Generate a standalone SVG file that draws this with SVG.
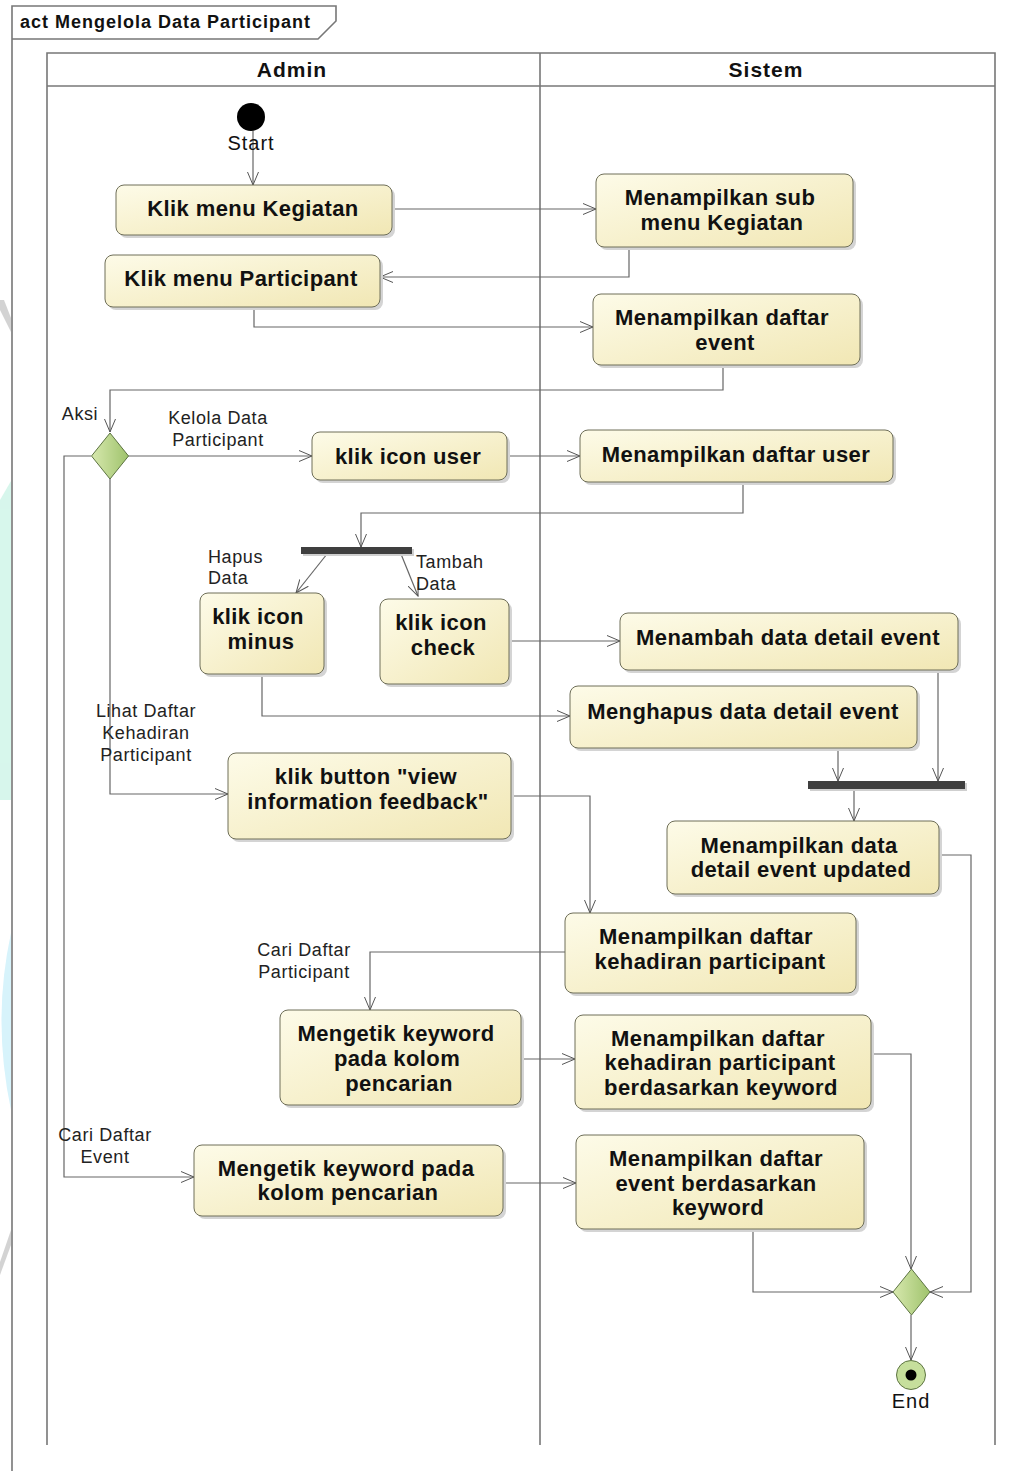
<svg xmlns="http://www.w3.org/2000/svg" width="1035" height="1471" viewBox="0 0 1035 1471">
<defs>
<linearGradient id="gNode" x1="0" y1="0" x2="1" y2="1">
<stop offset="0" stop-color="#fdfbe8"/>
<stop offset="1" stop-color="#f1e7b4"/>
</linearGradient>
<linearGradient id="gDia" x1="0" y1="0" x2="1" y2="0">
<stop offset="0" stop-color="#d7e8ae"/>
<stop offset="1" stop-color="#9fc36c"/>
</linearGradient>
<marker id="arr" viewBox="0 0 14 12" refX="13" refY="6" markerWidth="14" markerHeight="12" markerUnits="userSpaceOnUse" orient="auto">
<path d="M0,0.5 L13,6 L0,11.5" fill="none" stroke="#555" stroke-width="1"/>
</marker>
<style>
.nb{fill:url(#gNode);stroke:#6e6e58;stroke-width:1}
.sh{fill:#d4d4d4}
.t{font-family:"Liberation Sans",Arial,sans-serif;font-weight:bold;font-size:22px;letter-spacing:0.4px;fill:#111;text-anchor:middle}
.l{font-family:"Liberation Sans",Arial,sans-serif;font-size:18px;letter-spacing:0.6px;fill:#222}
.m{text-anchor:middle}
.e{fill:none;stroke:#666;stroke-width:1.2;marker-end:url(#arr)}
.ln{fill:none;stroke:#777;stroke-width:1.6}
.dia{fill:url(#gDia);stroke:#5d7442;stroke-width:1}
.bar{fill:#3f3f3f}
.h{font-family:"Liberation Sans",Arial,sans-serif;font-weight:bold;font-size:21px;letter-spacing:1px;text-anchor:middle;fill:#111}
.s{font-family:"Liberation Sans",Arial,sans-serif;font-size:20px;letter-spacing:1px;text-anchor:middle;fill:#111}
</style>
</defs>
<rect x="0" y="0" width="1035" height="1471" fill="#ffffff"/>
<g id="watermark" opacity="0.9">
<polygon points="0,300 4,300 11,318 11,332 0,310" fill="#cfcfcf"/>
<polygon points="0,500 11,481 11,800 0,800" fill="#d3f6ea"/>
<path d="M11,933 Q-8,1020 11,1110 Z" fill="#d3f2fb"/>
<polygon points="11,1230 11,1245 0,1275 0,1262" fill="#cfcfcf"/>
</g>
<g id="frame">
<path class="ln" d="M12,1471 L12,6 L336,6 L336,21 L318,39 L12,39" stroke="#888"/>
<text x="20" y="28" font-family="Liberation Sans,Arial,sans-serif" font-weight="bold" font-size="18" letter-spacing="1" fill="#111">act Mengelola Data Participant</text>
</g>
<g id="lanes">
<path class="ln" d="M47,1445 L47,53 L995,53 L995,1445"/>
<line class="ln" x1="47" y1="86" x2="995" y2="86"/>
<line class="ln" x1="540" y1="53" x2="540" y2="1445"/>
<text class="h" x="292" y="77">Admin</text>
<text class="h" x="766" y="77">Sistem</text>
</g>
<g id="connectors">
<path class="e" d="M253,131 L253,185"/>
<path class="e" d="M392,209 L596,209"/>
<path class="e" d="M629,247 L629,277 L380,277"/>
<path class="e" d="M254,307 L254,327 L593,327"/>
<path class="e" d="M723,365 L723,390 L110,390 L110,432"/>
<path class="e" d="M128,456 L312,456"/>
<path class="e" d="M507,456 L580,456"/>
<path class="e" d="M743,482 L743,513 L361,513 L361,547"/>
<path class="e" d="M327,554 L296,593"/>
<path class="e" d="M401,554 L418,596"/>
<path class="e" d="M509,641 L620,641"/>
<path class="e" d="M262,674 L262,716 L570,716"/>
<path class="e" d="M938,670 L938,781"/>
<path class="e" d="M838,748 L838,781"/>
<path class="e" d="M854,789 L854,821"/>
<path class="e" d="M110,478 L110,794 L228,794"/>
<path class="e" d="M511,796 L590,796 L590,913"/>
<path class="e" d="M939,855 L971,855 L971,1292 L930,1292"/>
<path class="e" d="M565,952 L370,952 L370,1010"/>
<path class="e" d="M521,1059 L575,1059"/>
<path class="e" d="M871,1054 L911,1054 L911,1269"/>
<path class="e" d="M91,456 L64,456 L64,1177 L194,1177"/>
<path class="e" d="M503,1183 L576,1183"/>
<path class="e" d="M753,1229 L753,1292 L893,1292"/>
<path class="e" d="M911,1315 L911,1360"/>
<text class="l m" x="80" y="420">Aksi</text>
<text class="l m" x="218" y="424">Kelola Data</text>
<text class="l m" x="218" y="446">Participant</text>
<text class="l" x="208" y="563">Hapus</text>
<text class="l" x="208" y="584">Data</text>
<text class="l" x="416" y="568">Tambah</text>
<text class="l" x="416" y="590">Data</text>
<text class="l m" x="146" y="717">Lihat Daftar</text>
<text class="l m" x="146" y="739">Kehadiran</text>
<text class="l m" x="146" y="761">Participant</text>
<text class="l m" x="304" y="956">Cari Daftar</text>
<text class="l m" x="304" y="978">Participant</text>
<text class="l m" x="105" y="1141">Cari Daftar</text>
<text class="l m" x="105" y="1163">Event</text>
</g>
<g id="start">
<circle cx="251" cy="117" r="14" fill="#000"/>
<text class="s" x="251" y="150">Start</text>
</g>
<g id="n1"><rect class="sh" x="119" y="188" width="276" height="50" rx="8"/><rect class="nb" x="116" y="185" width="276" height="50" rx="8"/><text class="t" x="253" y="216">Klik menu Kegiatan</text></g>
<g id="n2"><rect class="sh" x="599" y="177" width="257" height="73" rx="8"/><rect class="nb" x="596" y="174" width="257" height="73" rx="8"/><text class="t" x="720" y="205">Menampilkan sub</text><text class="t" x="722" y="230">menu Kegiatan</text></g>
<g id="n3"><rect class="sh" x="108" y="258" width="275" height="52" rx="8"/><rect class="nb" x="105" y="255" width="275" height="52" rx="8"/><text class="t" x="241" y="286">Klik menu Participant</text></g>
<g id="n4"><rect class="sh" x="596" y="297" width="267" height="71" rx="8"/><rect class="nb" x="593" y="294" width="267" height="71" rx="8"/><text class="t" x="722" y="325">Menampilkan daftar</text><text class="t" x="725" y="350">event</text></g>
<g id="d1"><polygon class="dia" points="110,433 128.5,456 110,479 91.5,456"/></g>
<g id="n5"><rect class="sh" x="315" y="435" width="195" height="48" rx="8"/><rect class="nb" x="312" y="432" width="195" height="48" rx="8"/><text class="t" x="408" y="464">klik icon user</text></g>
<g id="n6"><rect class="sh" x="583" y="433" width="313" height="52" rx="8"/><rect class="nb" x="580" y="430" width="313" height="52" rx="8"/><text class="t" x="736" y="462">Menampilkan daftar user</text></g>
<g id="fork1"><rect x="303" y="549" width="111" height="7" fill="#cfcfcf"/><rect class="bar" x="301" y="547" width="111" height="7"/></g>
<g id="n7"><rect class="sh" x="203" y="596" width="124" height="81" rx="8"/><rect class="nb" x="200" y="593" width="124" height="81" rx="8"/><text class="t" x="258" y="624">klik icon</text><text class="t" x="261" y="649">minus</text></g>
<g id="n8"><rect class="sh" x="383" y="602" width="129" height="85" rx="8"/><rect class="nb" x="380" y="599" width="129" height="85" rx="8"/><text class="t" x="441" y="630">klik icon</text><text class="t" x="443" y="655">check</text></g>
<g id="n9"><rect class="sh" x="623" y="616" width="338" height="57" rx="8"/><rect class="nb" x="620" y="613" width="338" height="57" rx="8"/><text class="t" x="788" y="645">Menambah data detail event</text></g>
<g id="n10"><rect class="sh" x="573" y="689" width="347" height="62" rx="8"/><rect class="nb" x="570" y="686" width="347" height="62" rx="8"/><text class="t" x="743" y="719">Menghapus data detail event</text></g>
<g id="n11"><rect class="sh" x="231" y="756" width="283" height="86" rx="8"/><rect class="nb" x="228" y="753" width="283" height="86" rx="8"/><text class="t" x="366" y="784">klik button "view</text><text class="t" x="368" y="809">information feedback"</text></g>
<g id="join1"><rect x="810" y="783" width="157" height="8" fill="#cfcfcf"/><rect class="bar" x="808" y="781" width="157" height="8"/></g>
<g id="n12"><rect class="sh" x="670" y="824" width="272" height="73" rx="8"/><rect class="nb" x="667" y="821" width="272" height="73" rx="8"/><text class="t" x="799" y="853">Menampilkan data</text><text class="t" x="801" y="877">detail event updated</text></g>
<g id="n13"><rect class="sh" x="568" y="916" width="291" height="80" rx="8"/><rect class="nb" x="565" y="913" width="291" height="80" rx="8"/><text class="t" x="706" y="944">Menampilkan daftar</text><text class="t" x="710" y="969">kehadiran participant</text></g>
<g id="n14"><rect class="sh" x="283" y="1013" width="241" height="95" rx="8"/><rect class="nb" x="280" y="1010" width="241" height="95" rx="8"/><text class="t" x="396" y="1041">Mengetik keyword</text><text class="t" x="397" y="1066">pada kolom</text><text class="t" x="399" y="1091">pencarian</text></g>
<g id="n15"><rect class="sh" x="578" y="1018" width="296" height="94" rx="8"/><rect class="nb" x="575" y="1015" width="296" height="94" rx="8"/><text class="t" x="718" y="1046">Menampilkan daftar</text><text class="t" x="720" y="1070">kehadiran participant</text><text class="t" x="721" y="1095">berdasarkan keyword</text></g>
<g id="n16"><rect class="sh" x="197" y="1148" width="309" height="71" rx="8"/><rect class="nb" x="194" y="1145" width="309" height="71" rx="8"/><text class="t" x="346" y="1176">Mengetik keyword pada</text><text class="t" x="348" y="1200">kolom pencarian</text></g>
<g id="n17"><rect class="sh" x="579" y="1138" width="288" height="94" rx="8"/><rect class="nb" x="576" y="1135" width="288" height="94" rx="8"/><text class="t" x="716" y="1166">Menampilkan daftar</text><text class="t" x="716" y="1191">event berdasarkan</text><text class="t" x="718" y="1215">keyword</text></g>
<g id="d2"><polygon class="dia" points="911.5,1269 930,1292 911.5,1315 893,1292"/></g>
<g id="end">
<circle cx="911" cy="1375" r="14.5" fill="#c6df9c" stroke="#5d7442" stroke-width="1"/>
<circle cx="911" cy="1375" r="5.5" fill="#000"/>
<text class="s" x="911" y="1408">End</text>
</g>
</svg>
